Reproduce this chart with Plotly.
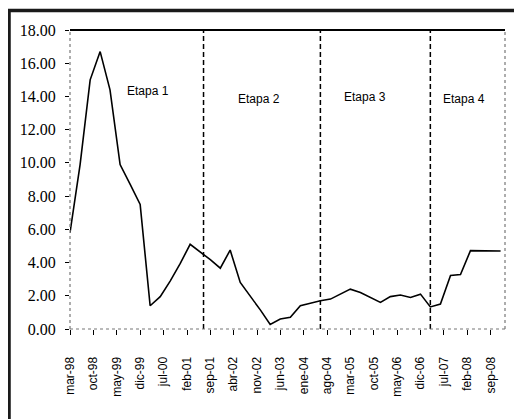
import plotly.graph_objects as go

# Quarterly observations (March 1998 .. December 2008)
dates = [f"{1998 + (2 + 3*i)//12}-{(2 + 3*i) % 12 + 1:02d}-01" for i in range(44)]
values = [5.8, 9.9, 15.0, 16.7, 14.4, 9.9, 8.7, 7.5, 1.4, 1.95,
          2.9, 3.95, 5.1, 4.66, 4.17, 3.66, 4.75, 2.8, 2.0, 1.15,
          0.28, 0.6, 0.7, 1.4, 1.55, 1.7, 1.8, 2.1, 2.4, 2.2,
          1.9, 1.6, 1.95, 2.05, 1.9, 2.1, 1.33, 1.5, 3.22, 3.28,
          4.72, 4.72, 4.7, 4.7]

tick_dates = ["1998-03-01", "1998-10-01", "1999-05-01", "1999-12-01", "2000-07-01",
              "2001-02-01", "2001-09-01", "2002-04-01", "2002-11-01", "2003-06-01",
              "2004-01-01", "2004-08-01", "2005-03-01", "2005-10-01", "2006-05-01",
              "2006-12-01", "2007-07-01", "2008-02-01", "2008-09-01"]
tick_labels = ["mar-98", "oct-98", "may-99", "dic-99", "jul-00", "feb-01", "sep-01",
               "abr-02", "nov-02", "jun-03", "ene-04", "ago-04", "mar-05", "oct-05",
               "may-06", "dic-06", "jul-07", "feb-08", "sep-08"]

stage_breaks = ["2001-07-01", "2004-06-01", "2007-03-01"]
stage_names = ["Etapa 1", "Etapa 2", "Etapa 3", "Etapa 4"]
stage_label_x = ["2000-02-10", "2002-11-15", "2005-07-15", "2008-01-01"]
stage_label_y = [14.35, 13.85, 13.95, 13.85]

fig = go.Figure()
fig.add_trace(go.Scatter(x=dates, y=values, mode="lines",
                         line=dict(color="black", width=1.6), showlegend=False))

shapes = []
for d in stage_breaks:
    shapes.append(dict(type="line", xref="x", yref="y", x0=d, x1=d, y0=0, y1=18,
                       line=dict(color="black", width=1.5, dash="5px,3px")))
# plot frame: solid top, dotted others
shapes.append(dict(type="line", xref="paper", yref="paper", x0=0, x1=1, y0=1, y1=1,
                   line=dict(color="black", width=2)))
for (x0, x1, y0, y1) in [(0, 0, 0, 1), (1, 1, 0, 1), (0, 1, 0, 0)]:
    shapes.append(dict(type="line", xref="paper", yref="paper", x0=x0, x1=x1, y0=y0, y1=y1,
                       line=dict(color="#777", width=1.2, dash="dot")))
# outer thick border of the figure
shapes.append(dict(type="rect", xref="paper", yref="paper",
                   x0=-0.1402, x1=1.10, y0=-0.35, y1=1.0652,
                   line=dict(color="#1a1a1a", width=3.5)))

annotations = []
for name, ax, ay in zip(stage_names, stage_label_x, stage_label_y):
    annotations.append(dict(x=ax, y=ay, xref="x", yref="y", text=name, showarrow=False,
                            font=dict(family="Liberation Sans", size=12, color="black")))

fig.update_layout(
    width=522, height=419,
    margin=dict(l=62, r=25, t=22, b=98),
    paper_bgcolor="white", plot_bgcolor="white",
    shapes=shapes, annotations=annotations,
    xaxis=dict(type="date", range=["1998-03-01", "2009-01-10"],
               tickvals=tick_dates, ticktext=tick_labels, tickangle=-90,
               ticks="outside", ticklen=5, tickwidth=1.2, tickcolor="black",
               showgrid=False, zeroline=False, showline=False,
               ticklabelstandoff=17,
               tickfont=dict(family="Liberation Sans", size=12, color="black")),
    yaxis=dict(range=[0, 18], dtick=2, tickformat=".2f",
               ticks="outside", ticklen=4, tickwidth=1.2, tickcolor="black",
               showgrid=False, zeroline=False, showline=False,
               ticklabelstandoff=6,
               tickfont=dict(family="'Times New Roman', 'Liberation Serif', serif",
                             size=16, color="black")),
)

fig.write_html("out.html")
